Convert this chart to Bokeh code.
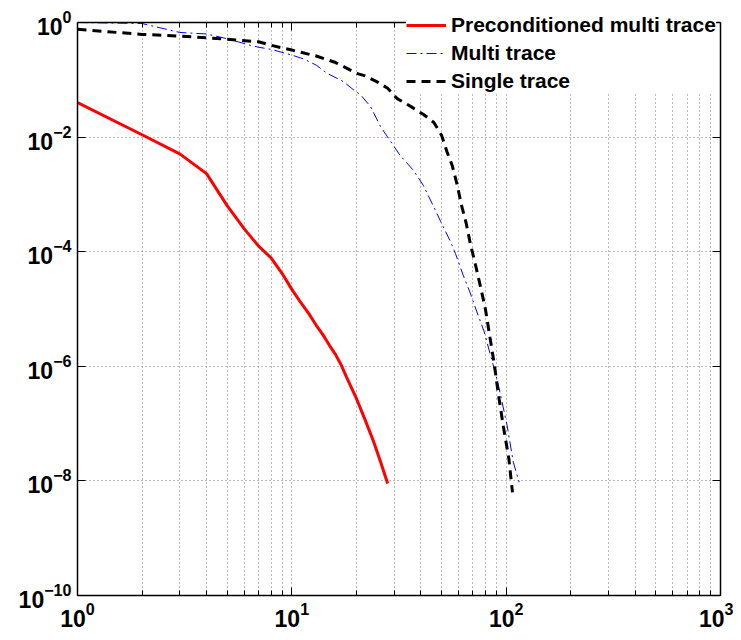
from bokeh.plotting import figure
from bokeh.models import (Range1d, FixedTicker, LogAxis, Legend, LegendItem,
                          BoxAnnotation)
from bokeh.embed import file_html
from bokeh.resources import INLINE

# ---------------- data ----------------
precond_x = [1, 2, 3, 4, 5, 6, 7, 8, 9, 10, 11, 12, 13, 14, 15, 16, 17, 18,
             20, 22, 24, 26, 28]
precond_y = [4.0e-2, 1.1e-2, 5.1e-3, 2.3e-3, 6.3e-4, 2.5e-4, 1.25e-4, 7.8e-5,
             4.2e-5, 2.2e-5, 1.3e-5, 8.3e-6, 5.2e-6, 3.5e-6, 2.3e-6, 1.6e-6,
             1.05e-6, 6.5e-7, 2.75e-7, 1.15e-7, 5.0e-8, 2.1e-8, 9.0e-9]

multi_x = [1, 2, 3, 4, 5, 6.4, 7, 8, 10, 11.4, 13, 14.6, 17.5, 19, 21, 23.3,
           26, 32, 37, 41, 46, 50, 55, 58, 63, 68, 73, 79, 83, 88, 92, 101,
           108, 115]
multi_y = [1.0, 0.96, 0.67, 0.63, 0.52, 0.40, 0.37, 0.34, 0.27, 0.23, 0.18,
           0.13, 0.092, 0.071, 0.054, 0.034, 0.015, 4.8e-3, 2.6e-3, 1.45e-3,
           6.0e-4, 3.1e-4, 1.5e-4, 9.3e-5, 3.9e-5, 1.9e-5, 8.9e-6, 4.0e-6,
           2.0e-6, 9.0e-7, 4.7e-7, 9.3e-8, 2.1e-8, 9.5e-9]

single_x = [1, 2, 3, 4, 5, 7, 8, 10, 13, 16, 18, 20, 22, 25, 28, 31, 36, 41,
            46, 50, 53, 56, 59, 62, 65, 68, 72, 76, 80, 84, 88, 92, 97, 103,
            107]
single_y = [0.76, 0.62, 0.58, 0.54, 0.51, 0.46, 0.40, 0.33, 0.26, 0.20, 0.16,
            0.13, 0.117, 0.092, 0.071, 0.047, 0.034, 0.025, 0.018, 0.0107,
            5.5e-3, 3.2e-3, 1.5e-3, 6.3e-4, 3.2e-4, 1.4e-4, 5.8e-5, 2.4e-5,
            1.0e-5, 3.2e-6, 1.1e-6, 3.2e-7, 9.0e-8, 2.4e-8, 6.3e-9]

x_major = [1, 10, 100, 1000]
x_minor = [2, 3, 4, 5, 6, 7, 8, 9, 20, 30, 40, 50, 60, 70, 80, 90,
           200, 300, 400, 500, 600, 700, 800, 900]
y_major = [1e-10, 1e-8, 1e-6, 1e-4, 1e-2, 1]
y_min, y_max = 1e-10, 1.0

labels = ["Preconditioned multi trace", "Multi trace", "Single trace"]

# ---------------- figure ----------------
FONT = "Liberation Sans"
Y_VIEW_TOP = 2.42   # a little headroom above 1 so the legend can sit there

p = figure(x_axis_type="log", y_axis_type="log",
           x_range=Range1d(1, 1000), y_range=Range1d(y_min, Y_VIEW_TOP),
           frame_width=643, frame_height=595,
           min_border_left=77, min_border_right=13,
           min_border_top=0, min_border_bottom=39,
           output_backend="svg", toolbar_location=None,
           background_fill_color="white", border_fill_color="white")
p.outline_line_color = None

xt = FixedTicker(ticks=x_major, minor_ticks=x_minor)
yt = FixedTicker(ticks=y_major, minor_ticks=[])
p.xaxis.ticker = xt
p.yaxis.ticker = yt


def style_axis(ax, show_labels=True):
    ax.axis_line_color = "black"
    ax.axis_line_width = 1.5
    ax.major_tick_line_color = "black"
    ax.minor_tick_line_color = "black"
    ax.major_tick_in = 8
    ax.major_tick_out = 0
    ax.minor_tick_in = 5
    ax.minor_tick_out = 0
    ax.major_label_text_font = FONT
    ax.major_label_text_font_style = "bold"
    ax.major_label_text_color = "black"
    ax.major_label_standoff = 6
    if show_labels:
        ax.major_label_text_font_size = "23px"
    else:
        ax.major_label_text_font_size = "1px"
        ax.major_label_text_alpha = 0
        ax.major_label_standoff = 0


for ax in p.xaxis:
    style_axis(ax)
for ax in p.yaxis:
    style_axis(ax)
    ax.bounds = (y_min, y_max)

# white cover above y = 1 (outside the axes box)
p.add_layout(BoxAnnotation(bottom=y_max, fill_color="white", fill_alpha=1.0,
                           line_alpha=0, level="underlay"))

top_axis = LogAxis(ticker=FixedTicker(ticks=x_major, minor_ticks=x_minor),
                   fixed_location=y_max)
style_axis(top_axis, show_labels=False)
p.add_layout(top_axis, "above")
right_axis = LogAxis(ticker=FixedTicker(ticks=y_major, minor_ticks=[]),
                     bounds=(y_min, y_max))
style_axis(right_axis, show_labels=False)
p.add_layout(right_axis, "right")

# grid
p.xgrid.ticker = xt
p.ygrid.ticker = yt
p.xgrid.grid_line_color = "#777777"
p.xgrid.grid_line_dash = "1 3"
p.xgrid.grid_line_width = 1
p.xgrid.minor_grid_line_color = "#777777"
p.xgrid.minor_grid_line_dash = "1 3"
p.xgrid.minor_grid_line_width = 1
p.ygrid.grid_line_color = "#777777"
p.ygrid.grid_line_dash = "1 3"
p.ygrid.grid_line_width = 1

# lines
r_pre = p.line(precond_x, precond_y, line_color="#ff0000", line_width=3)
r_multi = p.line(multi_x, multi_y, line_color="#0000ff", line_width=1,
                 line_dash="10 4 2 4")
r_single = p.line(single_x, single_y, line_color="black", line_width=3,
                  line_dash="9 6")

legend = Legend(items=[LegendItem(label=labels[0], renderers=[r_pre]),
                       LegendItem(label=labels[1], renderers=[r_multi]),
                       LegendItem(label=labels[2], renderers=[r_single])],
                location=(329, 502),
                label_text_font=FONT, label_text_font_style="bold",
                label_text_font_size="21px", label_text_color="black",
                glyph_width=40, glyph_height=20, label_height=20,
                label_standoff=5, spacing=4, padding=7, margin=0,
                background_fill_color="white", background_fill_alpha=1.0,
                border_line_color=None)
p.add_layout(legend, "center")

open("out.html", "w").write(file_html(p, INLINE))
